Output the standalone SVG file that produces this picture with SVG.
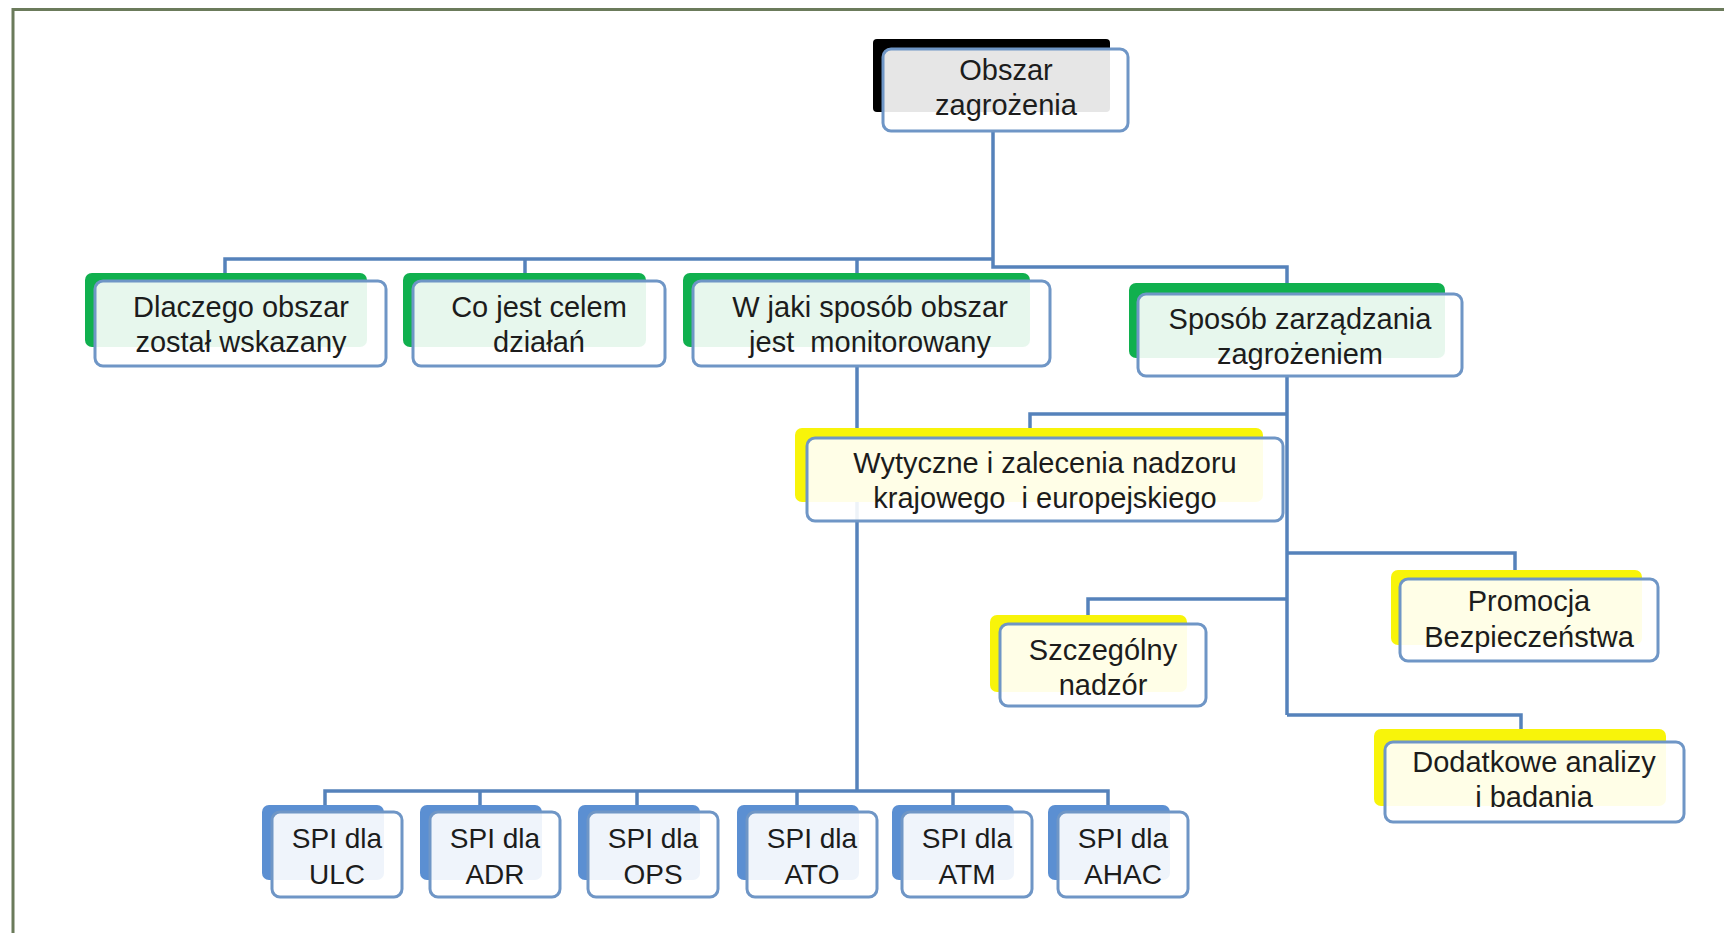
<svg xmlns="http://www.w3.org/2000/svg" width="1724" height="933" viewBox="0 0 1724 933">
<style>
.frame{fill:none;stroke:#6b7b5b;stroke-width:3}
.conn{fill:none;stroke:#5582bb;stroke-width:3.5;stroke-linejoin:miter}
.front{fill:#ffffff;fill-opacity:0.9;stroke:#6f96c6;stroke-width:3}
.sh-black{fill:#000000}
.sh-green{fill:#10b04e}
.sh-yellow{fill:#f8f40a}
.sh-blue{fill:#5b8fd2}
text{font-family:"Liberation Sans",Arial,sans-serif;font-size:29px;fill:#1c1c1c;text-anchor:middle;white-space:pre}
.spi{font-size:28px}
</style>
<rect x="0" y="0" width="1724" height="933" fill="#ffffff"/>
<path class="frame" d="M13,933 V9.5 H1724"/>
<g id="connectors">
<path class="conn" d="M993,131 V267 H1287 V283"/>
<path class="conn" d="M225,273 V259 H993"/>
<path class="conn" d="M525,259 V273"/>
<path class="conn" d="M857,259 V273"/>
<path class="conn" d="M857,366 V791"/>
<path class="conn" d="M325,805 V791 H1108 V805"/>
<path class="conn" d="M480,791 V805"/>
<path class="conn" d="M637,791 V805"/>
<path class="conn" d="M797,791 V805"/>
<path class="conn" d="M953,791 V805"/>
<path class="conn" d="M1287,376 V715"/>
<path class="conn" d="M1030,428 V414 H1287"/>
<path class="conn" d="M1287,553 H1515 V570"/>
<path class="conn" d="M1088,615 V599 H1287"/>
<path class="conn" d="M1287,715 H1521 V729"/>
</g>
<g id="root">
<rect class="sh-black" x="873" y="39" width="237" height="73" rx="4"/>
<rect class="front" x="883" y="49" width="245" height="82" rx="8"/>
<text x="1006" y="80">Obszar</text>
<text x="1006" y="115">zagrożenia</text>
</g>
<g id="n-dlaczego">
<rect class="sh-green" x="85" y="273" width="282" height="74" rx="7"/>
<rect class="front" x="95" y="281" width="291" height="85" rx="8"/>
<text x="241" y="317">Dlaczego obszar</text>
<text x="241" y="352">został wskazany</text>
</g>
<g id="n-cel">
<rect class="sh-green" x="403" y="273" width="243" height="74" rx="7"/>
<rect class="front" x="413" y="281" width="252" height="85" rx="8"/>
<text x="539" y="317">Co jest celem</text>
<text x="539" y="352">działań</text>
</g>
<g id="n-monitor">
<rect class="sh-green" x="683" y="273" width="347" height="74" rx="7"/>
<rect class="front" x="693" y="281" width="357" height="85" rx="8"/>
<text x="870" y="317">W jaki sposób obszar</text>
<text x="870" y="352" xml:space="preserve">jest  monitorowany</text>
</g>
<g id="n-sposob">
<rect class="sh-green" x="1129" y="283" width="316" height="75" rx="7"/>
<rect class="front" x="1138" y="294" width="324" height="82" rx="8"/>
<text x="1300" y="329">Sposób zarządzania</text>
<text x="1300" y="364">zagrożeniem</text>
</g>
<g id="n-wytyczne">
<rect class="sh-yellow" x="795" y="428" width="468" height="74" rx="7"/>
<rect class="front" x="807" y="438" width="476" height="83" rx="8"/>
<text x="1045" y="473">Wytyczne i zalecenia nadzoru</text>
<text x="1045" y="508" xml:space="preserve">krajowego  i europejskiego</text>
</g>
<g id="n-szczegolny">
<rect class="sh-yellow" x="990" y="615" width="197" height="77" rx="7"/>
<rect class="front" x="1000" y="624" width="206" height="82" rx="8"/>
<text x="1103" y="660">Szczególny</text>
<text x="1103" y="695">nadzór</text>
</g>
<g id="n-promocja">
<rect class="sh-yellow" x="1391" y="570" width="251" height="75" rx="7"/>
<rect class="front" x="1400" y="579" width="258" height="82" rx="8"/>
<text x="1529" y="611">Promocja</text>
<text x="1529" y="647">Bezpieczeństwa</text>
</g>
<g id="n-dodatkowe">
<rect class="sh-yellow" x="1374" y="729" width="292" height="77" rx="7"/>
<rect class="front" x="1385" y="742" width="299" height="80" rx="8"/>
<text x="1534" y="772">Dodatkowe analizy</text>
<text x="1534" y="807">i badania</text>
</g>
<g id="spi-ulc">
<rect class="sh-blue" x="262" y="805" width="122" height="75" rx="7"/>
<rect class="front" x="272" y="812" width="130" height="85" rx="8"/>
<text class="spi" x="337" y="848">SPI dla</text>
<text class="spi" x="337" y="884">ULC</text>
</g>
<g id="spi-adr">
<rect class="sh-blue" x="420" y="805" width="122" height="75" rx="7"/>
<rect class="front" x="430" y="812" width="130" height="85" rx="8"/>
<text class="spi" x="495" y="848">SPI dla</text>
<text class="spi" x="495" y="884">ADR</text>
</g>
<g id="spi-ops">
<rect class="sh-blue" x="578" y="805" width="122" height="75" rx="7"/>
<rect class="front" x="588" y="812" width="130" height="85" rx="8"/>
<text class="spi" x="653" y="848">SPI dla</text>
<text class="spi" x="653" y="884">OPS</text>
</g>
<g id="spi-ato">
<rect class="sh-blue" x="737" y="805" width="122" height="75" rx="7"/>
<rect class="front" x="747" y="812" width="130" height="85" rx="8"/>
<text class="spi" x="812" y="848">SPI dla</text>
<text class="spi" x="812" y="884">ATO</text>
</g>
<g id="spi-atm">
<rect class="sh-blue" x="892" y="805" width="122" height="75" rx="7"/>
<rect class="front" x="902" y="812" width="130" height="85" rx="8"/>
<text class="spi" x="967" y="848">SPI dla</text>
<text class="spi" x="967" y="884">ATM</text>
</g>
<g id="spi-ahac">
<rect class="sh-blue" x="1048" y="805" width="122" height="75" rx="7"/>
<rect class="front" x="1058" y="812" width="130" height="85" rx="8"/>
<text class="spi" x="1123" y="848">SPI dla</text>
<text class="spi" x="1123" y="884">AHAC</text>
</g>
</svg>
